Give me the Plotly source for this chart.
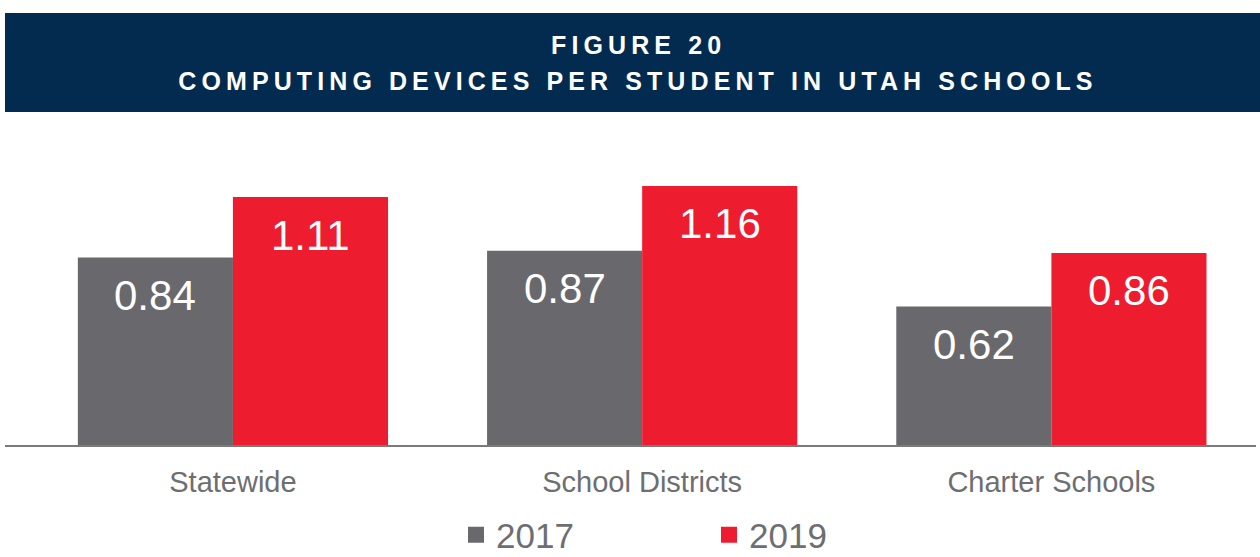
import json
import plotly.graph_objects as go

# chart data
categories = ["Statewide", "School Districts", "Charter Schools"]
years = ["2017", "2019"]
devices_2017 = [0.84, 0.87, 0.62]
devices_2019 = [1.11, 1.16, 0.86]
title_lines = ["FIGURE 20", "COMPUTING DEVICES PER STUDENT IN UTAH SCHOOLS"]

GRAY = "#69686d"
RED = "#ed1c2e"
NAVY = "#022b4f"
TEXT_GRAY = "#6d6e71"
FONT = "Liberation Sans, Arial, sans-serif"

W, H = 1260, 557
M = dict(l=5, r=4, t=177, b=112, autoexpand=False)
X_RANGE = [-0.557, 2.5]
Y_RANGE = [0, 1.2]
BARGAP = 0.242

plot_w = W - M["l"] - M["r"]
plot_h = H - M["t"] - M["b"]
unit_px = plot_w / (X_RANGE[1] - X_RANGE[0])


def py(px_y):
    # pixel row -> paper y
    return (H - M["b"] - px_y) / plot_h


def px_x(px):
    # pixel column -> paper x
    return (px - M["l"]) / plot_w


fig = go.Figure()
series = [(years[0], devices_2017, GRAY), (years[1], devices_2019, RED)]
for name, vals, color in series:
    fig.add_trace(go.Bar(
        x=categories, y=vals, name=name, marker_color=color,
        marker_line_width=0, showlegend=False, hoverinfo="x+y",
    ))
    # legend entry with a bigger square symbol
    fig.add_trace(go.Scatter(
        x=[None], y=[None], mode="markers", name=name,
        marker=dict(symbol="square", size=19, color=color),
    ))

# value labels sit inside the bars, a bit below the top
half = (1 - BARGAP) / 4 * unit_px
annotations = []
for i, (name, vals, color) in enumerate(series):
    for cat, v in zip(categories, vals):
        annotations.append(dict(
            x=cat, y=v, xref="x", yref="y", text=f"{v:.2f}", showarrow=False,
            xshift=-half if i == 0 else half, yshift=-38, yanchor="middle",
            font=dict(family=FONT, size=42, color="white"),
        ))

# title banner
for line, y in zip(title_lines, [45, 81]):
    annotations.append(dict(
        x=px_x(638), y=py(y), xref="paper", yref="paper", text=line,
        showarrow=False, yanchor="middle", xanchor="center",
        font=dict(family=FONT, size=25, color="white", weight="bold"),
    ))

fig.update_layout(
    width=W, height=H, margin=M,
    paper_bgcolor="white", plot_bgcolor="white",
    barmode="group", bargap=BARGAP, bargroupgap=0,
    font=dict(family=FONT, color=TEXT_GRAY),
    xaxis=dict(
        range=X_RANGE, showgrid=False, showline=True, linecolor="#7a7a7a",
        linewidth=2, ticks="outside", ticklen=10, tickcolor="rgba(0,0,0,0)",
        tickfont=dict(family=FONT, size=29, color=TEXT_GRAY), fixedrange=True,
    ),
    yaxis=dict(range=Y_RANGE, visible=False, fixedrange=True),
    showlegend=True,
    legend=dict(
        orientation="h", x=px_x(456), y=py(535), xanchor="left", yanchor="middle",
        font=dict(family=FONT, size=35, color=TEXT_GRAY), entrywidth=208,
        bgcolor="rgba(0,0,0,0)",
    ),
    shapes=[dict(
        type="rect", xref="paper", yref="paper", x0=px_x(5), x1=px_x(1260),
        y0=py(112), y1=py(13), fillcolor=NAVY, line_width=0, layer="below",
    )],
    annotations=annotations,
)

# no page margin; plotly has no letter-spacing option, so widen the
# banner text after drawing
post = """
document.body.style.margin = '0';
document.body.style.overflow = 'hidden';
var gd = document.getElementById('{plot_id}');
var lines = %s;
function spread() {
  gd.querySelectorAll('.annotation-text').forEach(function (t) {
    if (lines.indexOf(t.textContent) >= 0) { t.style.letterSpacing = '5.1px'; }
  });
}
spread();
gd.on('plotly_afterplot', spread);
""" % json.dumps(title_lines)

fig.write_html("out.html", post_script=post, config={"displayModeBar": False})
